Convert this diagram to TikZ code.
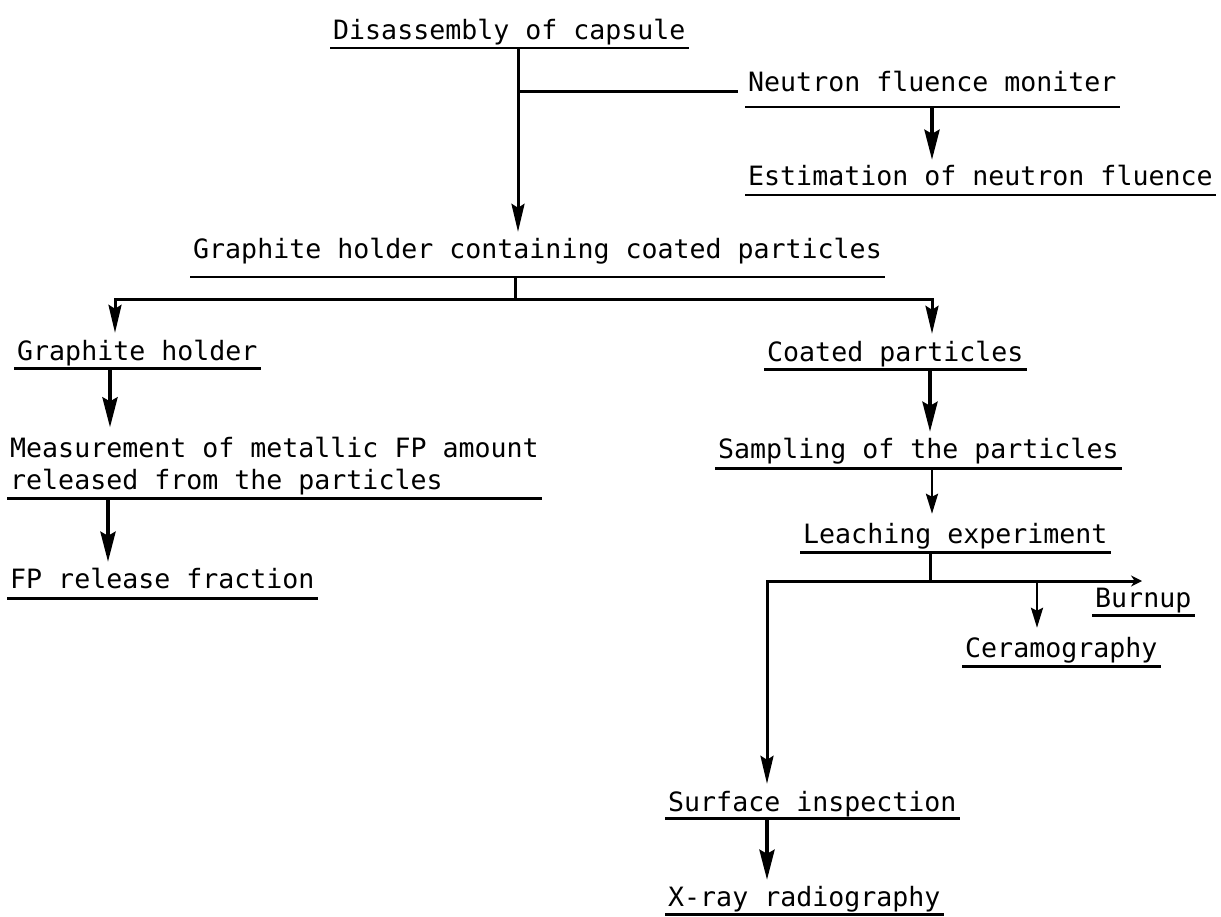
\documentclass[tikz,border=0pt]{standalone}
\usepackage{fontspec}
\newfontfamily\tfont{DejaVu Sans Mono}
\usetikzlibrary{arrows.meta}
\begin{document}
\begin{tikzpicture}[x=1pt,y=-1pt,
  uline/.style={draw, line width=2.6pt, -},
  txtb/.style={font={\tfont\fontsize{26.6pt}{32pt}\selectfont}, inner xsep=3pt, inner ysep=0pt,
    anchor=base west, text depth=9pt,
    append after command={(\tikzlastnode.south west) edge[uline] (\tikzlastnode.south east)}},
  txt/.style={txtb, text height=19pt},
  ln/.style={draw, line width=3pt},
  arr/.style={ln, -{Stealth[length=28pt,width=13pt,inset=4pt]}, shorten >=8pt},
  arrH/.style={draw, line width=4pt, -{Stealth[length=30pt,width=15pt,inset=4pt]}, shorten >=7pt},
  arrT/.style={draw, line width=2.6pt, -{Stealth[length=20pt,width=12pt,inset=3pt]}, shorten >=10pt},
  arrB/.style={draw, line width=3pt, -{Stealth[length=11pt,width=11pt]}}
]
\useasboundingbox (0,0) rectangle (1221,917);
\fill[white] (0,0) rectangle (1221,917);

% nodes
\node[txt, text depth=8pt] (dis) at (330,40) {Disassembly of capsule};
\node[txt, text depth=15pt] (neu) at (745,92) {Neutron fluence moniter};
\node[txt] (est) at (745,186) {Estimation of neutron fluence};
\node[txt, text depth=18pt] (ghc) at (190,259) {Graphite holder containing coated particles};
\node[txt, text depth=8pt] (gh) at (14,360) {Graphite holder};
\node[txt, text depth=8pt] (cp) at (764,361) {Coated particles};
\node[txtb] (meas) at (7,489) {\begin{tabular}[b]{@{}l@{}}Measurement of metallic FP amount\\released from the particles\end{tabular}};
\node[txt, text depth=10pt] (fp) at (7,588) {FP release fraction};
\node[txt, text depth=10pt] (samp) at (715,458) {Sampling of the particles};
\node[txt] (leach) at (800,543) {Leaching experiment};
\node[txt, text depth=8pt] (burn) at (1092,607) {Burnup};
\node[txt] (cera) at (962,657) {Ceramography};
\node[txt, text depth=7pt] (surf) at (665,811) {Surface inspection};
\node[txt, text depth=8pt] (xray) at (665,906) {X-ray radiography};

% junction coordinates
\coordinate (xA) at (518,0);
\coordinate (br) at (518,92);
\coordinate (xN) at (932,0);
\coordinate (spL) at (115,300);
\coordinate (spM) at (515,300);
\coordinate (spR) at (932,300);
\coordinate (xG) at (110,0);
\coordinate (xF) at (108,0);
\coordinate (xC) at (930,0);
\coordinate (xS) at (932,0);
\coordinate (lj) at (930,581);
\coordinate (lL) at (767,581);
\coordinate (lB) at (1142,581);
\coordinate (lC) at (1037,581);

% connectors
\draw[arr] (dis.south -| xA) -- (ghc.north -| xA);
\draw[ln] (br) -- ([xshift=-7pt]neu.base west |- br);
\draw[arrH] (neu.south -| xN) -- (est.north -| xN);
\draw[ln] (ghc.south -| spM) -- (spM);
\draw[arr] (spM) -| (gh.north -| spL);
\draw[arr] (spM) -| (cp.north -| spR);
\draw[arrH] (gh.south -| xG) -- (meas.north -| xG);
\draw[arrH] (meas.south -| xF) -- (fp.north -| xF);
\draw[arrH] (cp.south -| xC) -- (samp.north -| xC);
\draw[arrT] (samp.south -| xS) -- (leach.north -| xS);
\draw[ln] (leach.south -| lj) -- (lj);
\draw[arr] (lj) -| (surf.north -| lL);
\draw[arrB] (lj) -- (lB);
\draw[arrT] (lC) -- (cera.north -| lC);
\draw[arrH] (surf.south -| lL) -- (xray.north -| lL);
\end{tikzpicture}
\end{document}
